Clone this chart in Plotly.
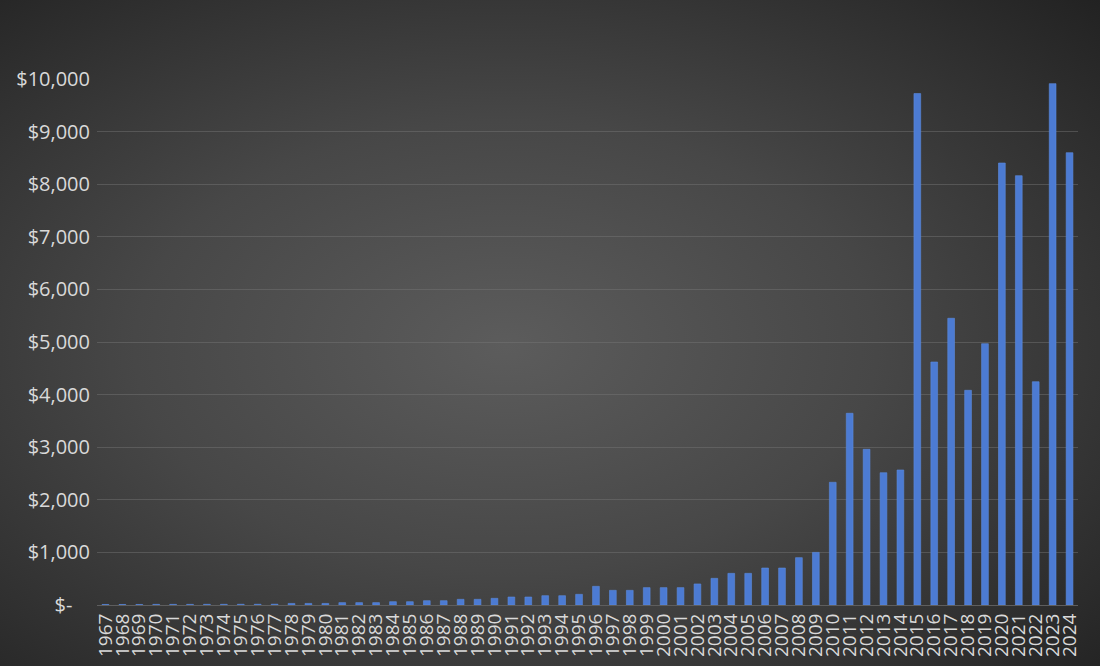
import base64
import plotly.graph_objects as go

years = [str(y) for y in range(1967, 2025)]
values = [
    10, 10, 10, 12, 12, 12, 13, 13, 14, 14, 15,          # 1967-1977
    30, 30, 30, 45, 45, 45, 63, 63, 82, 82, 108, 108,    # 1978-1989
    127, 152, 152, 177, 177, 203, 355, 279, 279, 330,    # 1990-1999
    330, 330, 400, 507, 602, 602, 703, 703, 900, 1000,   # 2000-2009
    2333, 3645, 2960, 2515, 2567, 9723, 4620, 5451, 4082, 4968,  # 2010-2019
    8403, 8162, 4245, 9912, 8599,                        # 2020-2024
]
y_tickvals = [0, 1000, 2000, 3000, 4000, 5000, 6000, 7000, 8000, 9000, 10000]
y_ticktext = ["$-<span style='color:rgba(0,0,0,0)'>__</span>", "$1,000", "$2,000",
              "$3,000", "$4,000", "$5,000", "$6,000", "$7,000", "$8,000",
              "$9,000", "$10,000"]

W, H = 1100, 666
ML, MR, MT, MB = 97, 22, 79, 61

svg = f'''<svg xmlns="http://www.w3.org/2000/svg" width="{W}" height="{H}" viewBox="0 0 {W} {H}">
<defs><radialGradient id="g" cx="46%" cy="52%" r="75%">
<stop offset="0%" stop-color="#5c5c5c"/>
<stop offset="45%" stop-color="#474747"/>
<stop offset="100%" stop-color="#222222"/>
</radialGradient></defs>
<rect width="{W}" height="{H}" fill="url(#g)"/></svg>'''
bg_uri = "data:image/svg+xml;base64," + base64.b64encode(svg.encode()).decode()

pw = W - ML - MR
ph = H - MT - MB

fig = go.Figure()
fig.add_trace(go.Bar(
    x=years, y=values,
    marker=dict(color="#4c7bd3", line=dict(color="#5d8bde", width=0.6)),
    hoverinfo="x+y",
))

fig.update_layout(
    width=W, height=H,
    autosize=False,
    margin=dict(l=ML, r=MR, t=MT, b=MB, pad=0),
    paper_bgcolor="#2a2a2a",
    plot_bgcolor="rgba(0,0,0,0)",
    bargap=0.6,
    showlegend=False,
    font=dict(family="Open Sans", color="#d9d9d9", size=15),
    images=[dict(
        source=bg_uri, xref="paper", yref="paper",
        x=-ML / pw, y=1 + MT / ph, sizex=W / pw, sizey=H / ph,
        xanchor="left", yanchor="top", sizing="stretch", layer="below",
    )],
    xaxis=dict(
        type="category",
        tickmode="array", tickvals=years, ticktext=years,
        tickangle=-90,
        tickfont=dict(size=19, color="#d9d9d9"),
        showgrid=False,
        showline=True, linecolor="#5e5e5e", linewidth=1,
        ticks="",
        range=[-0.5, len(years) - 0.5],
        automargin=False,
    ),
    yaxis=dict(
        range=[0, 10000],
        tickmode="array", tickvals=y_tickvals, ticktext=y_ticktext,
        tickfont=dict(size=20, color="#d9d9d9"),
        showgrid=True, gridcolor="rgba(120,120,120,0.45)", gridwidth=1,
        zeroline=False,
        ticks="", ticklabelstandoff=6,
        showline=False,
        automargin=False,
    ),
)

fig.write_html(
    "out.html",
    config={"responsive": False, "displayModeBar": False},
    post_script=(
        "document.documentElement.style.margin='0';"
        "document.documentElement.style.background='#262626';"
        "document.body.style.margin='0';document.body.style.padding='0';"
        "document.body.style.background='#262626';"
        "document.body.style.overflow='hidden';"
    ),
)
